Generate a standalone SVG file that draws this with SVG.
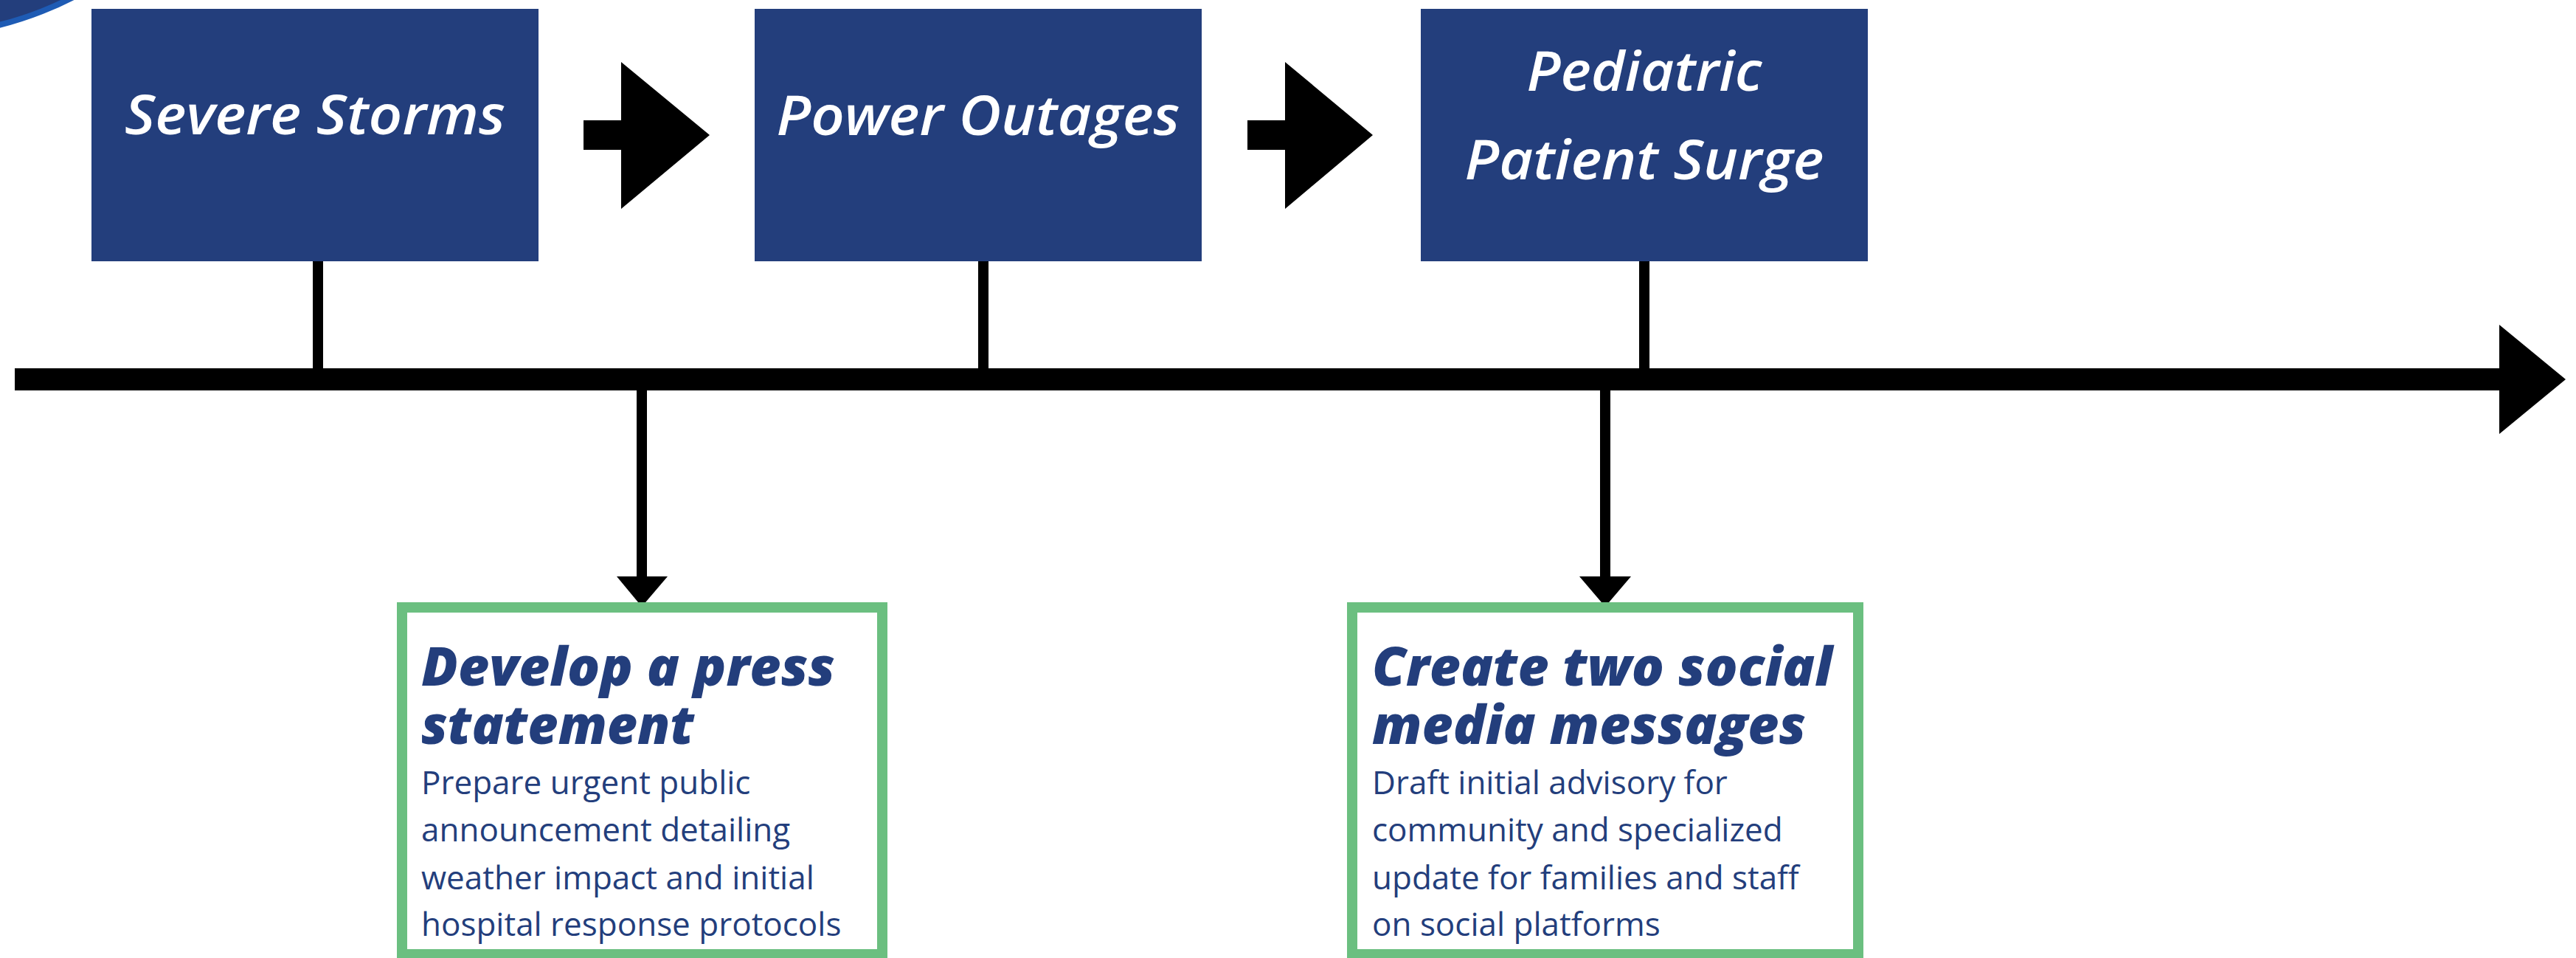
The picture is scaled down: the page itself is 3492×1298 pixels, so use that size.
<svg xmlns="http://www.w3.org/2000/svg" width="3492" height="1298" viewBox="0 0 3492 1298">
<style>
.evt{fill:#233E7C}
.evt-t{fill:#FFFFFF;font-family:"Open Sans","Liberation Sans",sans-serif;font-style:italic;font-weight:600;font-size:74px;text-anchor:middle}
.act{fill:#FFFFFF;stroke:#6BBF80;stroke-width:14}
.act-h{fill:#233E7C;font-family:"Open Sans","Liberation Sans",sans-serif;font-style:italic;font-weight:800;font-size:72px}
.act-b{fill:#233E7C;font-family:"Open Sans","Liberation Sans",sans-serif;font-size:44px}
.blk{fill:#000000}
</style>
<rect width="3492" height="1298" fill="#FFFFFF"/>
<circle cx="-115" cy="-420" r="468" fill="#233E7C" stroke="#1E5BB4" stroke-width="8"/>
<g id="connectors">
  <rect class="blk" x="20" y="499" width="3369" height="30"/>
  <polygon class="blk" points="3388,440 3478,514 3388,588"/>
  <rect class="blk" x="424" y="353" width="14" height="147"/>
  <rect class="blk" x="1326" y="353" width="14" height="147"/>
  <rect class="blk" x="2222" y="353" width="14" height="147"/>
  <rect class="blk" x="863" y="528" width="14" height="256"/>
  <polygon class="blk" points="836,781 905,781 870,822"/>
  <rect class="blk" x="2169" y="528" width="14" height="256"/>
  <polygon class="blk" points="2141,781 2211,781 2176,822"/>
  <polygon class="blk" points="791,163 842,163 842,84 962,183 842,283 842,203 791,203"/>
  <polygon class="blk" points="1691,163 1742,163 1742,84 1861,183 1742,283 1742,203 1691,203"/>
</g>
<g id="node-severe-storms">
  <rect class="evt" x="124" y="12" width="606" height="342"/>
  <text class="evt-t" x="427" y="182" textLength="516" lengthAdjust="spacingAndGlyphs">Severe Storms</text>
</g>
<g id="node-power-outages">
  <rect class="evt" x="1023" y="12" width="606" height="342"/>
  <text class="evt-t" x="1326" y="183" textLength="547" lengthAdjust="spacingAndGlyphs">Power Outages</text>
</g>
<g id="node-pediatric-surge">
  <rect class="evt" x="1926" y="12" width="606" height="342"/>
  <text class="evt-t"><tspan x="2229" y="123" textLength="319" lengthAdjust="spacingAndGlyphs">Pediatric</tspan><tspan x="2229" y="243" textLength="487" lengthAdjust="spacingAndGlyphs">Patient Surge</tspan></text>
</g>
<g id="node-press-statement">
  <rect class="act" x="545" y="823" width="651" height="470"/>
  <text class="act-h"><tspan x="571" y="929" textLength="561" lengthAdjust="spacingAndGlyphs">Develop a press</tspan><tspan x="571" y="1008" textLength="370" lengthAdjust="spacingAndGlyphs">statement</tspan></text>
  <text class="act-b"><tspan x="571" y="1076">Prepare urgent public</tspan><tspan x="571" y="1140">announcement detailing</tspan><tspan x="571" y="1205">weather impact and initial</tspan><tspan x="571" y="1268">hospital response protocols</tspan></text>
</g>
<g id="node-social-media">
  <rect class="act" x="1833" y="823" width="686" height="470"/>
  <text class="act-h"><tspan x="1860" y="929" textLength="624" lengthAdjust="spacingAndGlyphs">Create two social</tspan><tspan x="1860" y="1008" textLength="588" lengthAdjust="spacingAndGlyphs">media messages</tspan></text>
  <text class="act-b"><tspan x="1860" y="1076">Draft initial advisory for</tspan><tspan x="1860" y="1140">community and specialized</tspan><tspan x="1860" y="1205">update for families and staff</tspan><tspan x="1860" y="1268">on social platforms</tspan></text>
</g>
</svg>
